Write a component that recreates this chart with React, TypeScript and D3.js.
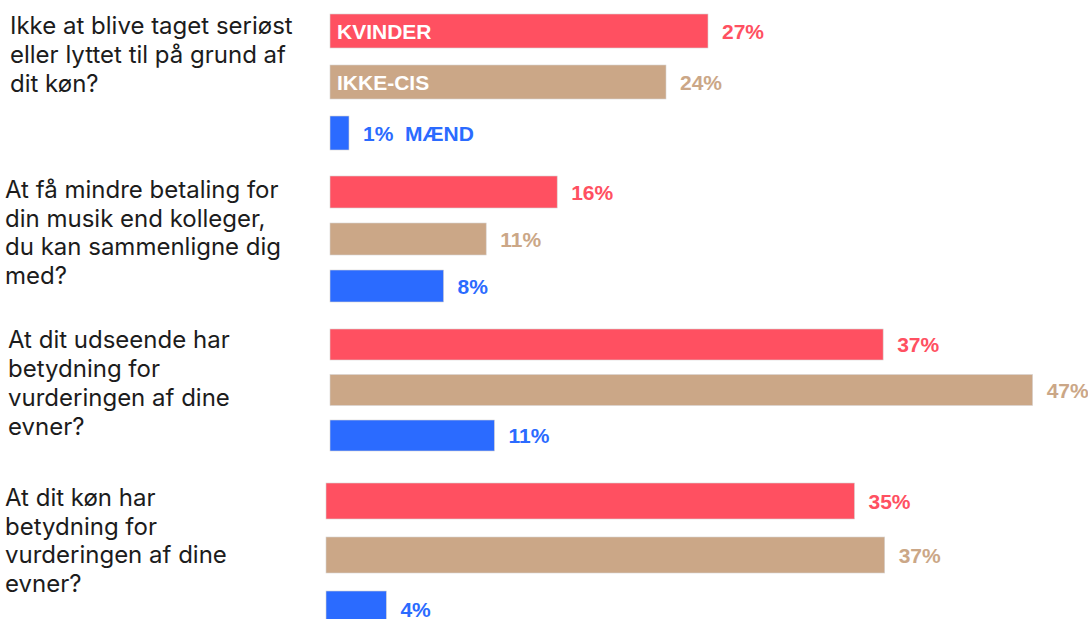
import React, { useEffect, useRef } from "react";
import * as d3 from "d3";

// questions, split in lines the way the reference wraps them
const questions: string[][] = [
  ["Ikke at blive taget seriøst", "eller lyttet til på grund af", "dit køn?"],
  ["At få mindre betaling for", "din musik end kolleger,", "du kan sammenligne dig", "med?"],
  ["At dit udseende har", "betydning for", "vurderingen af dine", "evner?"],
  ["At dit køn har", "betydning for", "vurderingen af dine", "evner?"],
];

const series = ["KVINDER", "IKKE-CIS", "MÆND"];
const colors = ["#ff5061", "#cba787", "#2b6bff"];

// percent per question, one array per series
const kvinder = [27, 16, 37, 35];
const ikkeCis = [24, 11, 47, 37];
const maend = [1, 8, 11, 4];

// each question block is laid out on its own (the source is a stack of separate panels)
const blocks = [
  { textX: 10, textY: 34, lineH: 29, barX: 330, pxPerPt: 14.0, top: 14, step: 51, barH: 34 },
  { textX: 5, textY: 198, lineH: 28.6, barX: 330, pxPerPt: 14.2, top: 176, step: 47, barH: 32 },
  { textX: 8, textY: 348, lineH: 29, barX: 330, pxPerPt: 14.95, top: 329, step: 45.5, barH: 31 },
  { textX: 5, textY: 506, lineH: 28.6, barX: 326, pxPerPt: 15.1, top: 483, step: 54, barH: 36 },
];

const W = 1088;
const H = 619;

export default function App() {
  const ref = useRef<SVGSVGElement | null>(null);

  useEffect(() => {
    if (!ref.current) return;
    const svg = d3.select(ref.current);
    svg.selectAll("*").remove();

    const values = [kvinder, ikkeCis, maend];

    questions.forEach((lines, qi) => {
      const b = blocks[qi];
      const g = svg.append("g");

      g.append("text")
        .attr("x", b.textX)
        .attr("y", b.textY)
        .style("font-family", "Inter, 'Noto Sans', sans-serif")
        .style("font-size", "24px")
        .style("fill", "#1c1c1c")
        .selectAll("tspan")
        .data(lines)
        .enter()
        .append("tspan")
        .attr("x", b.textX)
        .attr("dy", (d, i) => (i === 0 ? 0 : b.lineH))
        .text((d) => d);

      const x = d3.scaleLinear().domain([0, 100]).range([b.barX, b.barX + b.pxPerPt * 100]);
      const y = d3
        .scaleBand()
        .domain(series)
        .range([b.top, b.top + 2 * b.step + b.barH])
        .paddingInner(1 - b.barH / b.step)
        .paddingOuter(0);

      const rows = series.map((s, si) => ({ s, si, v: values[si][qi] }));

      g.selectAll("rect")
        .data(rows)
        .enter()
        .append("rect")
        .attr("x", x(0))
        .attr("y", (d) => y(d.s)!)
        .attr("width", (d) => Math.max(19, x(d.v) - x(0)))
        .attr("height", y.bandwidth())
        .attr("fill", (d) => colors[d.si])
        .attr("stroke", "#d8d4d2")
        .attr("stroke-width", 0.6);

      g.selectAll("text.pct")
        .data(rows)
        .enter()
        .append("text")
        .attr("class", "pct")
        .attr("x", (d) => Math.max(x(0) + 19, x(d.v)) + 14)
        .attr("y", (d) => y(d.s)! + y.bandwidth() / 2 + 7.5)
        .style("font-family", "'Liberation Sans', Arial, sans-serif")
        .style("font-weight", 700)
        .style("font-size", "21px")
        .style("fill", (d) => colors[d.si])
        .text((d) => `${d.v}%`);

      // legend names, only in the first block
      if (qi === 0) {
        g.selectAll("text.name")
          .data(rows)
          .enter()
          .append("text")
          .attr("class", "name")
          .attr("x", (d) => (d.si < 2 ? x(0) + 7 : Math.max(x(0) + 19, x(d.v)) + 14 + 42))
          .attr("y", (d) => y(d.s)! + y.bandwidth() / 2 + 7.5)
          .style("font-family", "'Liberation Sans', Arial, sans-serif")
          .style("font-weight", 700)
          .style("font-size", "21px")
          .style("fill", (d) => (d.si < 2 ? "#ffffff" : colors[d.si]))
          .text((d) => d.s);
      }
    });
  }, []);

  return (
    <svg
      ref={ref}
      width={W}
      height={H}
      style={{ position: "absolute", left: 0, top: 0, background: "#ffffff", display: "block" }}
    />
  );
}
